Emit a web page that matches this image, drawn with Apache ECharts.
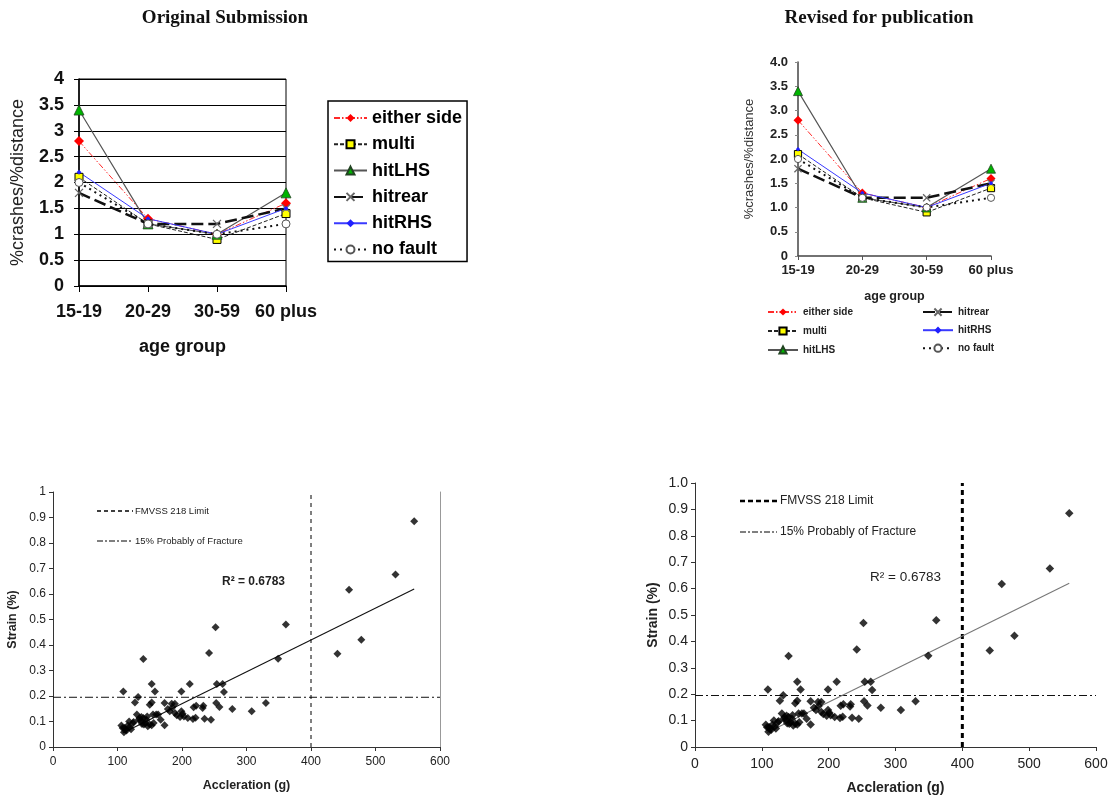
<!DOCTYPE html>
<html><head><meta charset="utf-8">
<script src="https://cdn.jsdelivr.net/npm/echarts@6/dist/echarts.min.js"></script>
<style>html,body{margin:0;padding:0;background:#fff}#c{width:1114px;height:797px}</style>
</head><body><div id="c"></div>
<script>
// ---- data ----
const ageGroups = ['15-19', '20-29', '30-59', '60 plus'];
const eitherSide = [2.8, 1.3, 1.0, 1.6];
const multi      = [2.1, 1.2, 0.9, 1.4];
const hitLHS     = [3.4, 1.2, 1.0, 1.8];
const hitrear    = [1.8, 1.2, 1.2, 1.5];
const hitRHS     = [2.2, 1.3, 1.0, 1.5];
const noFault    = [2.0, 1.2, 1.0, 1.2];

const accel = [560, 531, 459, 478, 441, 361, 349, 252, 242, 140,
  330, 308, 278, 265, 263, 254, 258, 253, 245, 235,
  233, 232, 222, 218, 217, 212, 209, 199, 199, 201,
  197, 189, 189, 184, 178, 173, 181, 173, 167, 163,
  158, 153, 153, 150, 155, 153, 145, 147, 141, 137,
  133, 130, 132, 127, 124, 118, 116, 111, 109, 108,
  110, 106, 114, 121, 134, 140, 143, 150, 156, 160,
  112, 119, 125, 136, 146, 185, 192, 203, 221, 138];
const strain = [0.885, 0.676, 0.617, 0.421, 0.366, 0.48, 0.346, 0.47, 0.369, 0.345,
  0.173, 0.14, 0.149, 0.216, 0.247, 0.247, 0.157, 0.173, 0.107, 0.111,
  0.162, 0.153, 0.162, 0.156, 0.11, 0.247, 0.114, 0.218, 0.14, 0.13,
  0.118, 0.133, 0.17, 0.17, 0.149, 0.173, 0.14, 0.085, 0.107, 0.127,
  0.218, 0.247, 0.175, 0.166, 0.127, 0.085, 0.107, 0.081, 0.088, 0.118,
  0.107, 0.127, 0.196, 0.175, 0.094, 0.1, 0.084, 0.075, 0.218, 0.075,
  0.058, 0.084, 0.065, 0.07, 0.114, 0.114, 0.094, 0.088, 0.094, 0.127,
  0.068, 0.078, 0.098, 0.103, 0.12, 0.155, 0.125, 0.12, 0.115, 0.09];
const trendAccel = [108, 560];
const trendStrain = [0.055, 0.62];
const limitAccel = 400;       // FMVSS 218 Limit
const fractureStrain = 0.195; // 15% probability of fracture
const r2Text = 'R\u00B2 = 0.6783';

// ---- build ----
const F = '"Liberation Sans", Arial, sans-serif';
const chart = echarts.init(document.getElementById('c'), null, {renderer: 'canvas'});

const defs = [
  {name: 'either side', data: eitherSide, line: {color: '#ff2a2a', width: 1, type: [6, 2, 1.5, 2, 1.5, 2]}, symbol: 'diamond', size: 10, item: {color: '#ff0000'}},
  {name: 'multi', data: multi, line: {color: '#222', width: 1, type: [4, 2]}, symbol: 'rect', size: 8, item: {color: '#ffff00', borderColor: '#000', borderWidth: 1}},
  {name: 'hitLHS', data: hitLHS, line: {color: '#555', width: 1.2, type: 'solid'}, symbol: 'triangle', size: 10, item: {color: '#00b400', borderColor: '#224422', borderWidth: 0.8}},
  {name: 'hitrear', data: hitrear, line: {color: '#111', width: 2.5, type: [12, 5]}, symbol: 'path://M0,0L10,10M10,0L0,10', size: 8, item: {color: 'none', borderColor: '#666', borderWidth: 1.3}},
  {name: 'hitRHS', data: hitRHS, line: {color: '#3a3aff', width: 1, type: 'solid'}, symbol: 'diamond', size: 5, item: {color: '#2020ff'}},
  {name: 'no fault', data: noFault, line: {color: '#111', width: 2, type: [2, 4]}, symbol: 'circle', size: 8, item: {color: '#fff', borderColor: '#555', borderWidth: 1}}
];

function lineSeriesFor(gi, scale) {
  return defs.map(d => ({
    type: 'line', name: d.name, xAxisIndex: gi, yAxisIndex: gi, data: d.data,
    symbol: d.symbol, symbolSize: d.size * scale, showSymbol: true,
    lineStyle: Object.assign({}, d.line), itemStyle: Object.assign({}, d.item),
    emphasis: {disabled: true}, z: 3
  }));
}

const scatterData = accel.map((a, i) => [a, strain[i]]);
const trendData = trendAccel.map((a, i) => [a, trendStrain[i]]);
const limitData = [[limitAccel, 0], [limitAccel, 1]];
const fractureData = [[0, fractureStrain], [600, fractureStrain]];

function scatterSeriesFor(gi, big) {
  return [
    {type: 'line', xAxisIndex: gi, yAxisIndex: gi, data: fractureData, symbol: 'none', silent: true,
     lineStyle: {color: '#111', width: big ? 1.2 : 1, type: [8, 3, 2, 3]}, z: 2},
    {type: 'line', xAxisIndex: gi, yAxisIndex: gi, data: limitData, symbol: 'none', silent: true,
     lineStyle: {color: '#000', width: big ? 3 : 1, type: big ? [5, 4] : [4, 4]}, z: 2},
    {type: 'line', xAxisIndex: gi, yAxisIndex: gi, data: trendData, symbol: 'none', silent: true,
     lineStyle: {color: big ? '#777' : '#111', width: 1.1}, z: 3},
    {type: 'scatter', xAxisIndex: gi, yAxisIndex: gi, data: scatterData, symbol: 'diamond',
     symbolSize: big ? 8.5 : 8, itemStyle: {color: '#000'}, silent: true, z: 4}
  ];
}

const tlText = {fontFamily: F, fontWeight: 'bold', fontSize: 18, color: '#111'};
const trText = {fontFamily: F, fontWeight: 'bold', fontSize: 13, color: '#222'};

const option = {
  animation: false,
  backgroundColor: '#fff',
  grid: [
    {left: 79, top: 79, width: 207, height: 207, show: true, borderColor: '#000', borderWidth: 1, backgroundColor: 'transparent'},
    {left: 798, top: 62, width: 193, height: 194},
    {left: 53, top: 492, width: 387, height: 255},
    {left: 695, top: 483, width: 401, height: 264}
  ],
  xAxis: [
    {gridIndex: 0, type: 'category', data: ageGroups, boundaryGap: false,
     name: 'age group', nameLocation: 'middle', nameGap: 52, nameTextStyle: tlText,
     axisLine: {lineStyle: {color: '#000', width: 1.5}},
     axisTick: {show: true, length: 6, alignWithLabel: true, lineStyle: {color: '#000'}},
     axisLabel: Object.assign({margin: 17, interval: 0}, tlText), splitLine: {show: false}},
    {gridIndex: 1, type: 'category', data: ageGroups, boundaryGap: false,
     name: 'age group', nameLocation: 'middle', nameGap: 34,
     nameTextStyle: {fontFamily: F, fontWeight: 'bold', fontSize: 12.5, color: '#222'},
     axisLine: {lineStyle: {color: '#444', width: 1.5}},
     axisTick: {show: true, length: 4, lineStyle: {color: '#555'}},
     axisLabel: Object.assign({margin: 8, interval: 0}, trText), splitLine: {show: false}},
    {gridIndex: 2, type: 'value', min: 0, max: 600, interval: 100,
     name: 'Accleration (g)', nameLocation: 'middle', nameGap: 32,
     nameTextStyle: {fontFamily: F, fontWeight: 'bold', fontSize: 12.5, color: '#222'},
     axisLine: {lineStyle: {color: '#333', width: 1}},
     axisTick: {show: true, length: 4, lineStyle: {color: '#333'}},
     axisLabel: {margin: 9, fontFamily: F, fontSize: 12, color: '#222'}, splitLine: {show: false}},
    {gridIndex: 3, type: 'value', min: 0, max: 600, interval: 100,
     name: 'Accleration (g)', nameLocation: 'middle', nameGap: 34,
     nameTextStyle: {fontFamily: F, fontWeight: 'bold', fontSize: 14, color: '#222'},
     axisLine: {lineStyle: {color: '#333', width: 1}},
     axisTick: {show: true, length: 4, lineStyle: {color: '#333'}},
     axisLabel: {margin: 10, fontFamily: F, fontSize: 14, color: '#222'}, splitLine: {show: false}}
  ],
  yAxis: [
    {gridIndex: 0, type: 'value', min: 0, max: 4, interval: 0.5,
     name: '%crashes/%distance', nameLocation: 'middle', nameGap: 52,
     nameTextStyle: {fontFamily: F, fontSize: 18, color: '#222'},
     axisLine: {show: true, lineStyle: {color: '#000', width: 1.5}},
     axisTick: {show: true, length: 5, lineStyle: {color: '#000'}},
     axisLabel: Object.assign({margin: 15}, tlText),
     splitLine: {show: true, lineStyle: {color: '#000', width: 1}}},
    {gridIndex: 1, type: 'value', min: 0, max: 4, interval: 0.5,
     name: '%crashes/%distance', nameLocation: 'middle', nameGap: 42,
     nameTextStyle: {fontFamily: F, fontSize: 13, color: '#333'},
     axisLine: {show: true, lineStyle: {color: '#444', width: 1.5}},
     axisTick: {show: true, length: 3, lineStyle: {color: '#888'}},
     axisLabel: Object.assign({margin: 10, formatter: v => v === 0 ? '0' : v.toFixed(1)}, trText),
     splitLine: {show: false}},
    {gridIndex: 2, type: 'value', min: 0, max: 1, interval: 0.1,
     name: 'Strain (%)', nameLocation: 'middle', nameGap: 34,
     nameTextStyle: {fontFamily: F, fontWeight: 'bold', fontSize: 12.5, color: '#222'},
     axisLine: {show: true, lineStyle: {color: '#333', width: 1}},
     axisTick: {show: true, length: 4, lineStyle: {color: '#333'}},
     axisLabel: {margin: 7, fontFamily: F, fontSize: 12, color: '#222'}, splitLine: {show: false}},
    {gridIndex: 3, type: 'value', min: 0, max: 1, interval: 0.1,
     name: 'Strain (%)', nameLocation: 'middle', nameGap: 35,
     nameTextStyle: {fontFamily: F, fontWeight: 'bold', fontSize: 14, color: '#222'},
     axisLine: {show: true, lineStyle: {color: '#333', width: 1}},
     axisTick: {show: true, length: 4, lineStyle: {color: '#333'}},
     axisLabel: {margin: 7, fontFamily: F, fontSize: 14, color: '#222',
       formatter: v => v === 0 ? '0' : v.toFixed(1)}, splitLine: {show: false}},
    {gridIndex: 2, type: 'value', position: 'right', min: 0, max: 1,
     axisLine: {show: true, lineStyle: {color: '#999', width: 1}},
     axisTick: {show: false}, axisLabel: {show: false}, splitLine: {show: false}}
  ],
  legend: [
    {left: 328, top: 101, orient: 'vertical', padding: [8, 5, 3, 5], itemGap: 8.3,
     itemWidth: 33, itemHeight: 10, borderColor: '#000', borderWidth: 1.5, selectedMode: false,
     textStyle: {fontFamily: F, fontWeight: 'bold', fontSize: 18, color: '#000', lineHeight: 18},
     data: ['either side', 'multi', 'hitLHS', 'hitrear', 'hitRHS', 'no fault']},
    {left: 767, top: 306, orient: 'vertical', padding: 0, itemGap: 7,
     itemWidth: 30, itemHeight: 9, selectedMode: false,
     textStyle: {fontFamily: F, fontWeight: 'bold', fontSize: 10, color: '#222', lineHeight: 12},
     data: ['either side', 'multi', 'hitLHS']},
    {left: 922, top: 306, orient: 'vertical', padding: 0, itemGap: 6,
     itemWidth: 30, itemHeight: 9, selectedMode: false,
     textStyle: {fontFamily: F, fontWeight: 'bold', fontSize: 10, color: '#222', lineHeight: 12},
     data: ['hitrear', 'hitRHS', 'no fault']}
  ],
  graphic: [
    {type: 'text', x: 225, y: 18, style: {text: 'Original Submission', fontFamily: '"Liberation Serif", "Times New Roman", serif', fontWeight: 'bold', fontSize: 19, fill: '#111', align: 'center', verticalAlign: 'middle'}},
    {type: 'text', x: 879, y: 18, style: {text: 'Revised for publication', fontFamily: '"Liberation Serif", "Times New Roman", serif', fontWeight: 'bold', fontSize: 19, fill: '#111', align: 'center', verticalAlign: 'middle'}},
    // bottom-left legend
    {type: 'line', shape: {x1: 97, y1: 511, x2: 133, y2: 511}, style: {stroke: '#000', lineWidth: 1.6, lineDash: [4, 3]}},
    {type: 'text', x: 135, y: 511, style: {text: 'FMVSS 218 Limit', fontFamily: F, fontSize: 9.5, fill: '#222', verticalAlign: 'middle'}},
    {type: 'line', shape: {x1: 97, y1: 541, x2: 133, y2: 541}, style: {stroke: '#000', lineWidth: 1, lineDash: [6, 2, 2, 2]}},
    {type: 'text', x: 135, y: 541, style: {text: '15% Probably of Fracture', fontFamily: F, fontSize: 9.5, fill: '#222', verticalAlign: 'middle'}},
    {type: 'text', x: 222, y: 582, style: {text: r2Text, fontFamily: F, fontWeight: 'bold', fontSize: 12, fill: '#222', verticalAlign: 'middle'}},
    // bottom-right legend
    {type: 'line', shape: {x1: 740, y1: 501, x2: 777, y2: 501}, style: {stroke: '#000', lineWidth: 2.5, lineDash: [5, 3]}},
    {type: 'text', x: 780, y: 501, style: {text: 'FMVSS 218 Limit', fontFamily: F, fontSize: 12, fill: '#222', verticalAlign: 'middle'}},
    {type: 'line', shape: {x1: 740, y1: 532, x2: 777, y2: 532}, style: {stroke: '#000', lineWidth: 1, lineDash: [6, 2, 2, 2]}},
    {type: 'text', x: 780, y: 532, style: {text: '15% Probably of Fracture', fontFamily: F, fontSize: 12, fill: '#222', verticalAlign: 'middle'}},
    {type: 'text', x: 870, y: 577, style: {text: r2Text, fontFamily: F, fontSize: 13.5, fill: '#222', verticalAlign: 'middle'}}
  ],
  series: [].concat(lineSeriesFor(0, 1), lineSeriesFor(1, 0.9), scatterSeriesFor(2, false), scatterSeriesFor(3, true))
};
chart.setOption(option);
</script></body></html>
